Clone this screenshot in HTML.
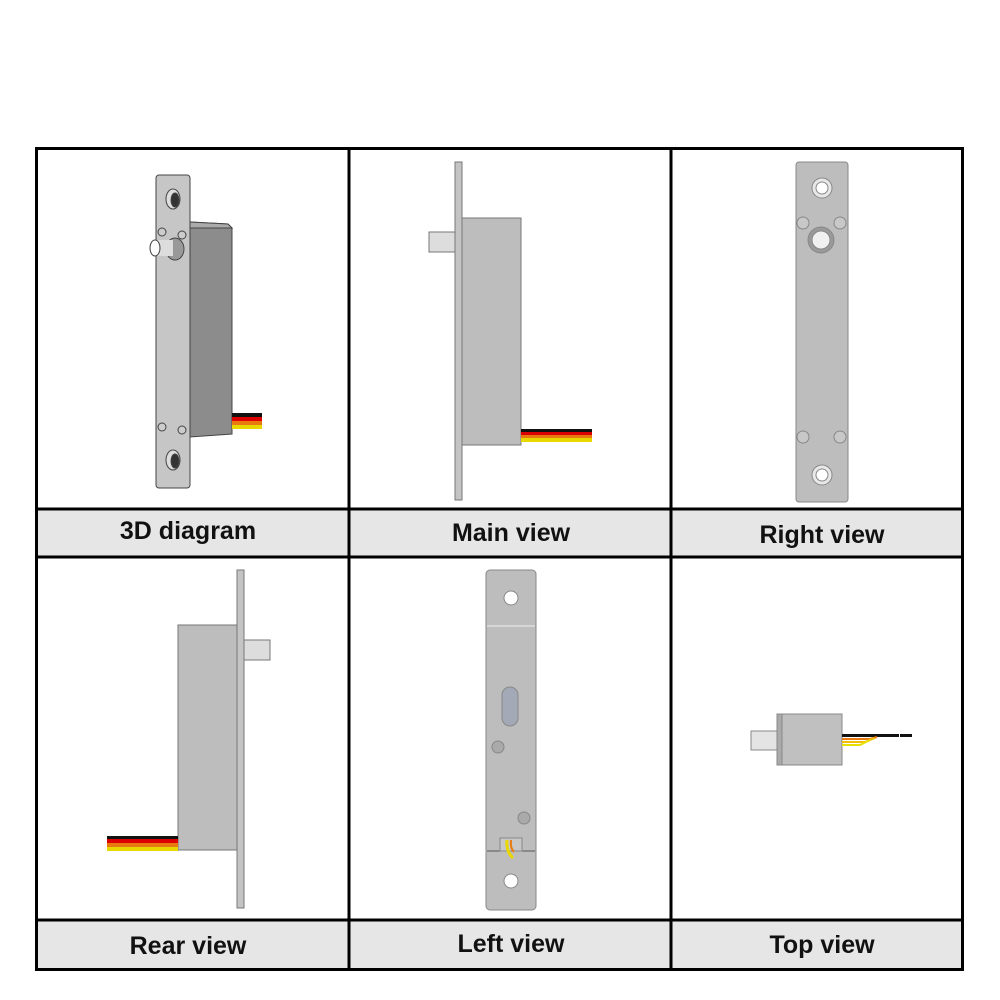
<!DOCTYPE html>
<html><head><meta charset="utf-8"><style>
html,body{margin:0;padding:0;background:#fff;width:1000px;height:1000px;overflow:hidden}
svg{display:block}
text{font-family:"Liberation Sans",sans-serif;font-weight:bold;font-size:25px;fill:#111;text-anchor:middle}
</style></head><body>
<svg width="1000" height="1000" viewBox="0 0 1000 1000" xmlns="http://www.w3.org/2000/svg">
<!-- label backgrounds -->
<rect x="36" y="509" width="927" height="48" fill="#e6e6e6"/>
<rect x="36" y="921" width="927" height="49" fill="#e6e6e6"/>
<!-- grid -->
<g stroke="#000" stroke-width="3" fill="none">
<rect x="36.5" y="148.5" width="926" height="821"/>
<line x1="349" y1="148" x2="349" y2="970"/>
<line x1="671" y1="148" x2="671" y2="970"/>
<line x1="36" y1="509" x2="963" y2="509"/>
<line x1="36" y1="557" x2="963" y2="557"/>
<line x1="36" y1="920" x2="963" y2="920"/>
</g>
<text x="188" y="539">3D diagram</text>
<text x="511" y="541">Main view</text>
<text x="822" y="543">Right view</text>
<text x="188" y="954">Rear view</text>
<text x="511" y="952">Left view</text>
<text x="822" y="953">Top view</text>

<!-- Cell 1: 3D -->
<g stroke="#444" stroke-width="1">
<polygon points="190,222 228,224 232,228 232,434 190,437" fill="#8c8c8c"/>
<polygon points="190,222 228,224 232,228 190,228" fill="#aaa"/>
<rect x="156" y="175" width="34" height="313" rx="3" fill="#c6c6c6"/>
<ellipse cx="173" cy="199" rx="7" ry="10" fill="#ddd"/>
<ellipse cx="175" cy="200" rx="4" ry="7" fill="#333"/>
<ellipse cx="173" cy="460" rx="7" ry="10" fill="#ddd"/>
<ellipse cx="175" cy="461" rx="4" ry="7" fill="#333"/>
<circle cx="162" cy="232" r="4" fill="#ccc"/><circle cx="182" cy="235" r="4" fill="#ccc"/>
<circle cx="162" cy="427" r="4" fill="#ccc"/><circle cx="182" cy="430" r="4" fill="#ccc"/>
<ellipse cx="175" cy="249" rx="9" ry="11" fill="#999"/>
<rect x="155" y="240" width="18" height="16" fill="#ddd" stroke="none"/>
<ellipse cx="155" cy="248" rx="5" ry="8" fill="#fff"/>
</g>
<rect x="232" y="413" width="30" height="4" fill="#111"/>
<rect x="232" y="417" width="30" height="4" fill="#d00"/>
<rect x="232" y="421" width="30" height="4" fill="#e87a10"/>
<rect x="232" y="425" width="30" height="4" fill="#e8d800"/>

<!-- Cell 2: Main view -->
<g stroke="#777" stroke-width="1">
<rect x="429" y="232" width="26" height="20" fill="#ddd"/>
<rect x="462" y="218" width="59" height="227" fill="#bdbdbd"/>
<rect x="455" y="162" width="7" height="338" fill="#c4c4c4"/>
</g>
<rect x="521" y="429" width="71" height="3" fill="#111"/>
<rect x="521" y="432" width="71" height="3" fill="#d00"/>
<rect x="521" y="435" width="71" height="3" fill="#e87a10"/>
<rect x="521" y="438" width="71" height="4" fill="#e8d800"/>

<!-- Cell 3: Right view -->
<g stroke="#888" stroke-width="1">
<rect x="796" y="162" width="52" height="340" rx="3" fill="#bdbdbd"/>
<circle cx="822" cy="188" r="10" fill="#e8e8e8"/><circle cx="822" cy="188" r="6" fill="#fff"/>
<circle cx="822" cy="475" r="10" fill="#e8e8e8"/><circle cx="822" cy="475" r="6" fill="#fff"/>
<circle cx="821" cy="240" r="13" fill="#999"/><circle cx="821" cy="240" r="9" fill="#f0f0f0"/>
<circle cx="803" cy="223" r="6" fill="#c8c8c8"/><circle cx="840" cy="223" r="6" fill="#c8c8c8"/>
<circle cx="803" cy="437" r="6" fill="#c8c8c8"/><circle cx="840" cy="437" r="6" fill="#c8c8c8"/>
</g>

<!-- Cell 4: Rear view -->
<g stroke="#777" stroke-width="1">
<rect x="244" y="640" width="26" height="20" fill="#ddd"/>
<rect x="178" y="625" width="59" height="225" fill="#bdbdbd"/>
<rect x="237" y="570" width="7" height="338" fill="#c4c4c4"/>
</g>
<rect x="107" y="836" width="71" height="3" fill="#111"/>
<rect x="107" y="839" width="71" height="4" fill="#d00"/>
<rect x="107" y="843" width="71" height="4" fill="#e87a10"/>
<rect x="107" y="847" width="71" height="4" fill="#e8d800"/>

<!-- Cell 5: Left view -->
<g stroke="#888" stroke-width="1">
<rect x="486" y="570" width="50" height="340" rx="4" fill="#bdbdbd"/>
<line x1="487" y1="626" x2="535" y2="626" stroke="#eee"/>
<line x1="487" y1="851" x2="535" y2="851" stroke="#555"/>
<circle cx="511" cy="598" r="7" fill="#fff"/>
<circle cx="511" cy="881" r="7" fill="#fff"/>
<rect x="502" y="687" width="16" height="39" rx="8" fill="#a3a9b6"/>
<circle cx="498" cy="747" r="6" fill="#aaa"/>
<circle cx="524" cy="818" r="6" fill="#aaa"/>
<rect x="500" y="838" width="22" height="13" fill="#c8c8c8"/>
</g>
<path d="M507 840 Q506 852 513 858" stroke="#e8d800" stroke-width="3" fill="none"/>
<path d="M511 840 Q510 848 514 852" stroke="#e87a10" stroke-width="2" fill="none"/>

<!-- Cell 6: Top view -->
<g stroke="#888" stroke-width="1">
<rect x="751" y="731" width="27" height="19" fill="#e4e4e4"/>
<rect x="777" y="714" width="5" height="51" fill="#aaa"/>
<rect x="782" y="714" width="60" height="51" fill="#c0c0c0"/>
</g>
<rect x="842" y="734" width="57" height="3" fill="#111"/>
<rect x="900" y="734" width="12" height="3" fill="#111"/>
<path d="M842 739 L870 739 L877 737" stroke="#e87a10" stroke-width="2" fill="none"/>
<path d="M842 742 L865 742 L875 738" stroke="#f0c000" stroke-width="2" fill="none"/>
<path d="M842 745 L860 745 L870 740" stroke="#e8e000" stroke-width="2" fill="none"/>
</svg>
</body></html>
